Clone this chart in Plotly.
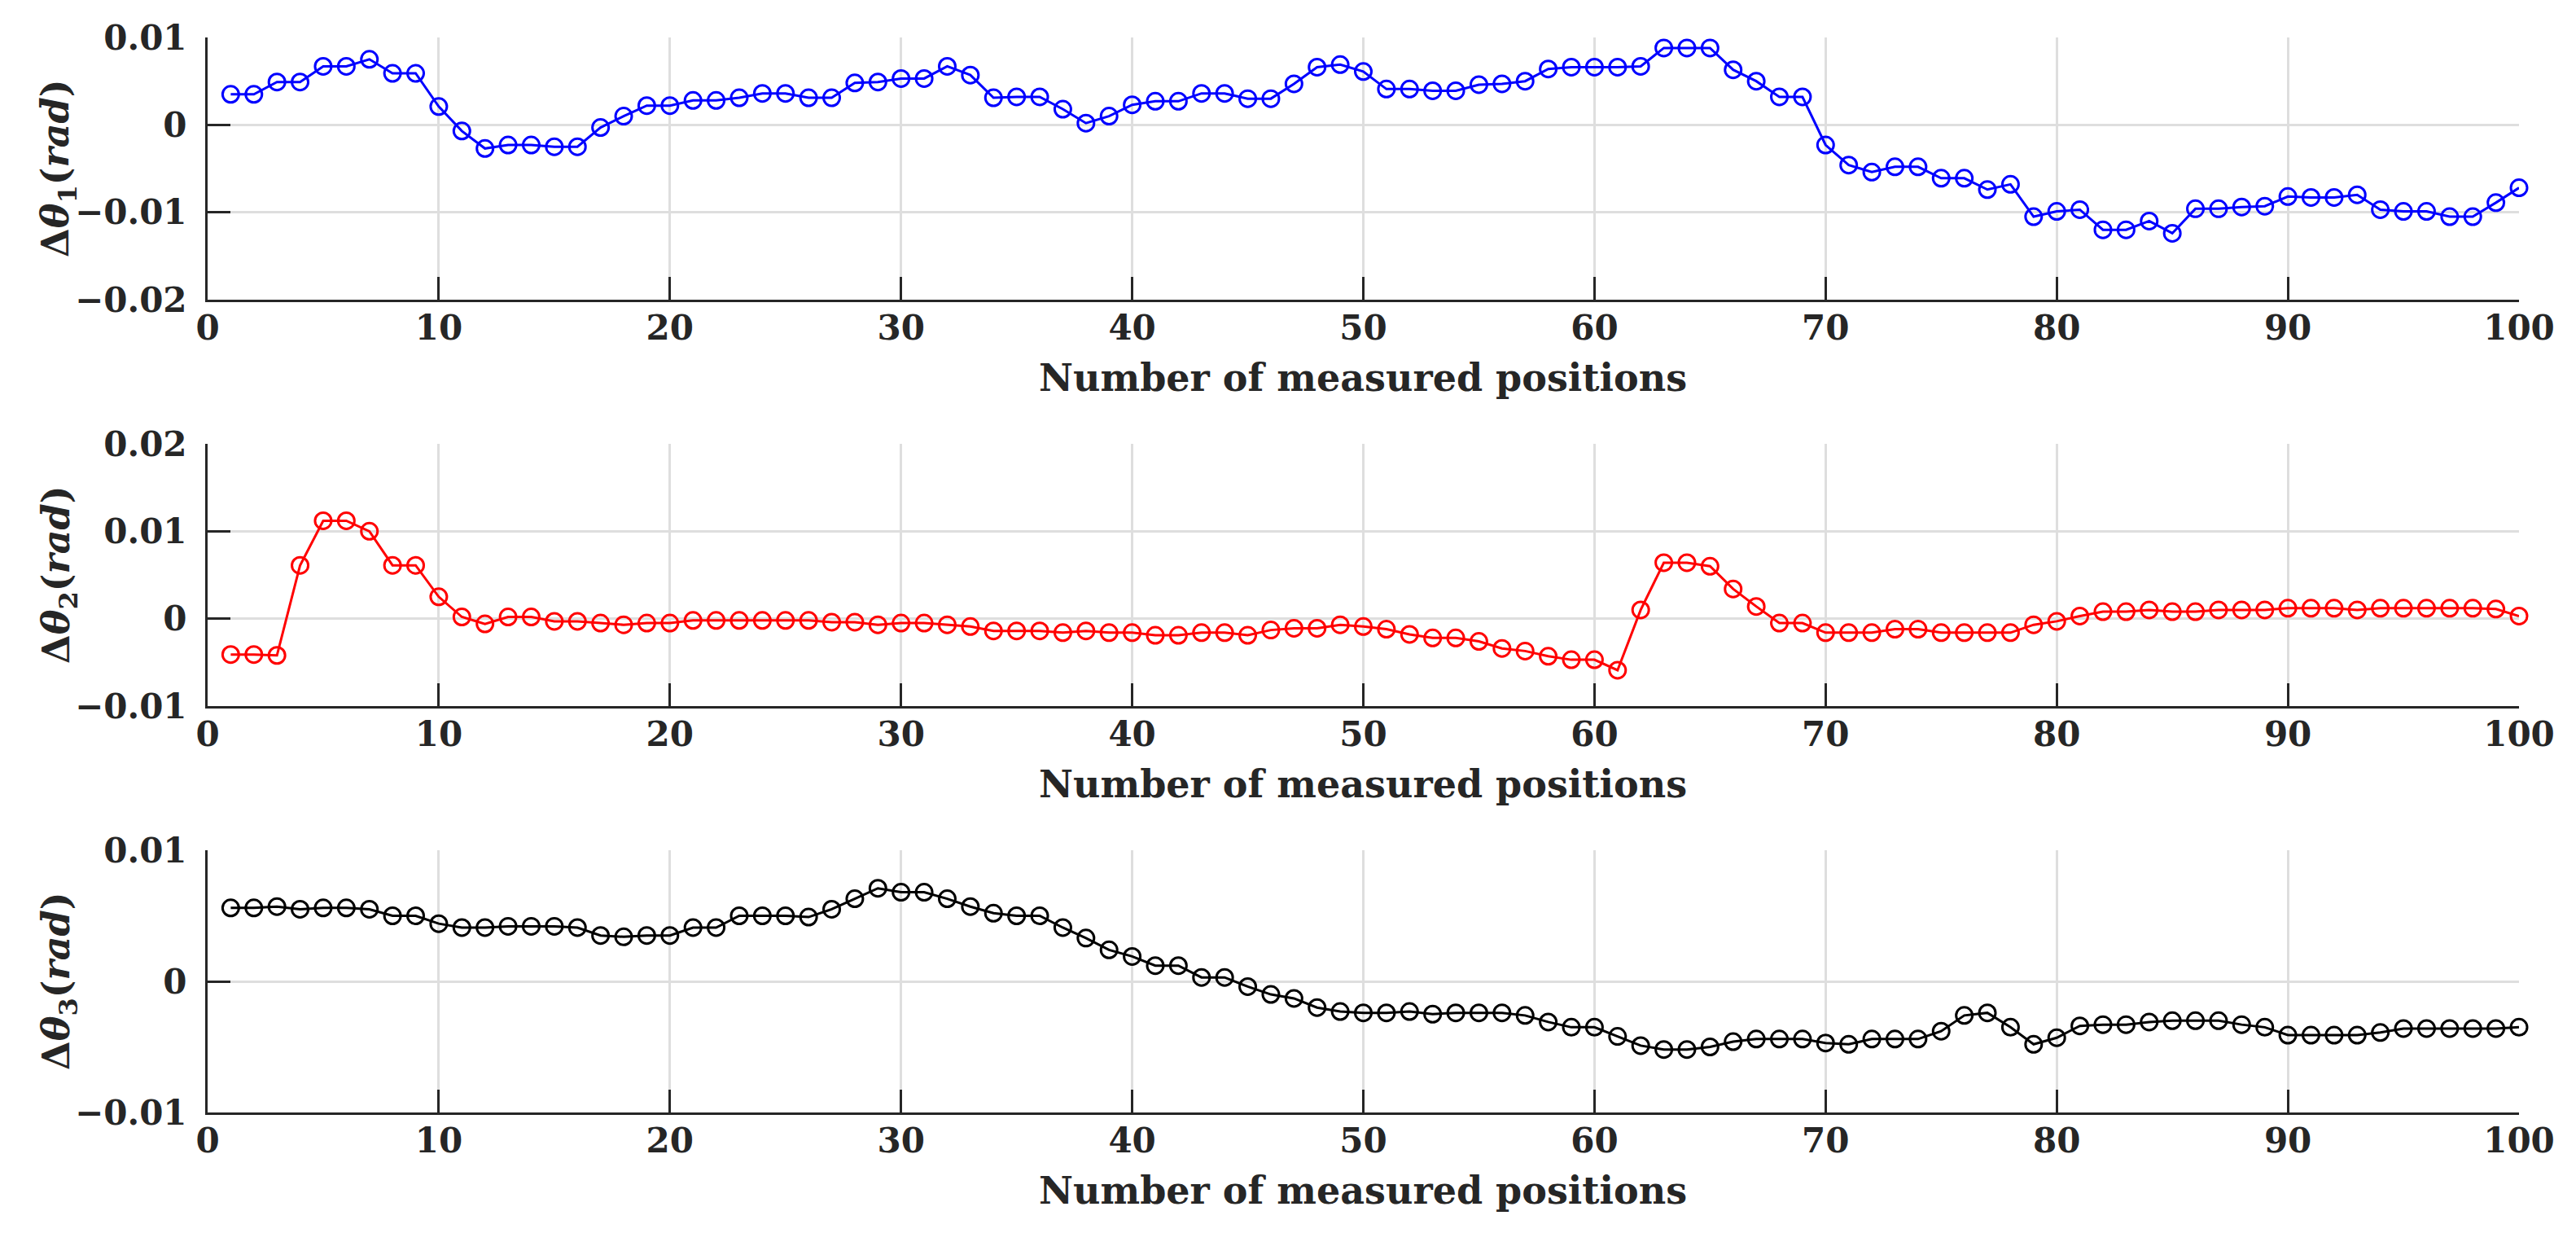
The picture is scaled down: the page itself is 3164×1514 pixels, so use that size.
import plotly.graph_objects as go

# ---- data ----
positions = list(range(1, 101))

dtheta1 = [
    0.0035, 0.0035, 0.0049, 0.0049, 0.0067, 0.0067, 0.0075, 0.0059, 0.0059, 0.0021,
    -0.0007, -0.0027, -0.0023, -0.0023, -0.0025, -0.0025, -0.0003, 0.0010, 0.0022, 0.0022,
    0.0028, 0.0028, 0.0031, 0.0036, 0.0036, 0.0031, 0.0031, 0.0048, 0.0049, 0.0053,
    0.0053, 0.0067, 0.0057, 0.0031, 0.0032, 0.0032, 0.0018, 0.0002, 0.0010, 0.0023,
    0.0027, 0.0027, 0.0036, 0.0036, 0.0030, 0.0030, 0.0047, 0.0066, 0.0069, 0.0061,
    0.0041, 0.0041, 0.0039, 0.0039, 0.0046, 0.0047, 0.0050, 0.0064, 0.0066, 0.0066,
    0.0066, 0.0067, 0.0088, 0.0088, 0.0088, 0.0063, 0.0050, 0.0032, 0.0032, -0.0023,
    -0.0046, -0.0054, -0.0048, -0.0048, -0.0061, -0.0061, -0.0074, -0.0068, -0.0105, -0.0099,
    -0.0097, -0.0120, -0.0120, -0.0110, -0.0124, -0.0096, -0.0096, -0.0094, -0.0093, -0.0082,
    -0.0083, -0.0083, -0.0080, -0.0097, -0.0099, -0.0099, -0.0105, -0.0105, -0.0089, -0.0072,
]

dtheta2 = [
    -0.0041, -0.0041, -0.0042, 0.0061, 0.0112, 0.0112, 0.0100, 0.0061, 0.0061, 0.0025,
    0.0002, -0.0006, 0.0002, 0.0002, -0.0003, -0.0003, -0.0005, -0.0007, -0.0005, -0.0005,
    -0.0002, -0.0002, -0.0002, -0.0002, -0.0002, -0.0002, -0.0004, -0.0004, -0.0007, -0.0005,
    -0.0005, -0.0007, -0.0009, -0.0014, -0.0014, -0.0014, -0.0016, -0.0014, -0.0016, -0.0016,
    -0.0019, -0.0019, -0.0016, -0.0016, -0.0019, -0.0013, -0.0011, -0.0011, -0.0007, -0.0009,
    -0.0012, -0.0018, -0.0022, -0.0022, -0.0026, -0.0034, -0.0037, -0.0043, -0.0047, -0.0047,
    -0.0059, 0.0010, 0.0064, 0.0064, 0.0060, 0.0034, 0.0014, -0.0005, -0.0005, -0.0016,
    -0.0016, -0.0016, -0.0012, -0.0012, -0.0016, -0.0016, -0.0016, -0.0016, -0.0007, -0.0003,
    0.0003, 0.0008, 0.0008, 0.0010, 0.0008, 0.0008, 0.0010, 0.0010, 0.0010, 0.0012,
    0.0012, 0.0012, 0.0010, 0.0012, 0.0012, 0.0012, 0.0012, 0.0012, 0.0011, 0.0003,
]

dtheta3 = [
    0.0056, 0.0056, 0.0057, 0.0055, 0.0056, 0.0056, 0.0055, 0.0050, 0.0050, 0.0044,
    0.0041, 0.0041, 0.0042, 0.0042, 0.0042, 0.0041, 0.0035, 0.0034, 0.0035, 0.0035,
    0.0041, 0.0041, 0.0050, 0.0050, 0.0050, 0.0049, 0.0055, 0.0063, 0.0071, 0.0068,
    0.0068, 0.0063, 0.0057, 0.0052, 0.0050, 0.0050, 0.0041, 0.0033, 0.0024, 0.0019,
    0.0012, 0.0012, 0.0003, 0.0003, -0.0004, -0.0010, -0.0013, -0.0020, -0.0023, -0.0024,
    -0.0024, -0.0023, -0.0025, -0.0024, -0.0024, -0.0024, -0.0026, -0.0031, -0.0035, -0.0035,
    -0.0042, -0.0049, -0.0052, -0.0052, -0.0050, -0.0046, -0.0044, -0.0044, -0.0044, -0.0047,
    -0.0048, -0.0044, -0.0044, -0.0044, -0.0038, -0.0026, -0.0024, -0.0035, -0.0048, -0.0043,
    -0.0034, -0.0033, -0.0033, -0.0031, -0.0030, -0.0030, -0.0030, -0.0033, -0.0035, -0.0041,
    -0.0041, -0.0041, -0.0041, -0.0039, -0.0036, -0.0036, -0.0036, -0.0036, -0.0036, -0.0035,
]

x_ticks = [0, 10, 20, 30, 40, 50, 60, 70, 80, 90, 100]
y1_ticks = [-0.02, -0.01, 0, 0.01]
y2_ticks = [-0.01, 0, 0.01, 0.02]
y3_ticks = [-0.01, 0, 0.01]
y1_labels = ["\u22120.02", "\u22120.01", "0", "0.01"]
y2_labels = ["\u22120.01", "0", "0.01", "0.02"]
y3_labels = ["\u22120.01", "0", "0.01"]
x_title = "Number of measured positions"
y_titles = [
    "<b>Δ<i>θ</i><sub>1</sub>(<i>rad</i>)</b>",
    "<b>Δ<i>θ</i><sub>2</sub>(<i>rad</i>)</b>",
    "<b>Δ<i>θ</i><sub>3</sub>(<i>rad</i>)</b>",
]
colors = ["#0000FF", "#FF0000", "#000000"]

# ---- layout geometry (pixels of a 3164 x 1514 canvas) ----
W, H = 3164, 1514
X0, X1 = 247, 3086
panels = [(38, 360), (537, 859), (1036, 1358)]  # (top, bottom) pixel rows
FONT = "DejaVu Serif"
FS_TICK = 42
FS_TITLE = 46
AXC = "#262626"
GRID = "#dedede"

fig = go.Figure()
series = [dtheta1, dtheta2, dtheta3]
ranges = [[-0.02, 0.01], [-0.01, 0.02], [-0.01, 0.01]]
yticks = [y1_ticks, y2_ticks, y3_ticks]
ylabels = [y1_labels, y2_labels, y3_labels]

for i, (vals, col) in enumerate(zip(series, colors)):
    sfx = "" if i == 0 else str(i + 1)
    fig.add_trace(go.Scatter(
        x=positions, y=vals, mode="lines+markers",
        xaxis="x" + sfx, yaxis="y" + sfx,
        line=dict(color=col, width=3),
        marker=dict(symbol="circle-open", size=20, color=col, line=dict(width=3, color=col)),
        cliponaxis=False, showlegend=False,
    ))
    top, bot = panels[i]
    ydom = [1 - bot / H, 1 - top / H]
    common = dict(
        showline=True, linecolor=AXC, linewidth=3, mirror=False, automargin=False,
        ticks="inside", ticklen=28, tickwidth=3, tickcolor=AXC,
        showgrid=True, gridcolor=GRID, gridwidth=2.5, zeroline=False,
        tickfont=dict(family=FONT, size=FS_TICK, color=AXC, weight="bold"),
    )
    fig.layout["xaxis" + sfx] = dict(
        domain=[X0 / W, X1 / W], range=[0, 100], anchor="y" + sfx,
        tickvals=x_ticks, ticklabelstandoff=-4, **common)
    fig.layout["yaxis" + sfx] = dict(
        domain=ydom, range=ranges[i], anchor="x" + sfx,
        tickvals=yticks[i], ticktext=ylabels[i], ticklabelstandoff=14, **common)
    # x title
    fig.add_annotation(
        x=(X0 + X1) / 2 / W, y=1 - (bot + 96) / H, xref="paper", yref="paper",
        text="<b>" + x_title + "</b>", showarrow=False, xanchor="center", yanchor="middle",
        font=dict(family=FONT, size=FS_TITLE, color=AXC))
    # y title
    fig.add_annotation(
        x=64 / W, y=1 - (top + bot) / 2 / H, xref="paper", yref="paper",
        text=y_titles[i], showarrow=False, textangle=-90, xanchor="center", yanchor="middle",
        font=dict(family=FONT, size=FS_TITLE, color=AXC))

fig.update_layout(
    template="none",
    width=W, height=H, margin=dict(l=0, r=0, t=0, b=0, pad=0),
    paper_bgcolor="white", plot_bgcolor="white",
)

fig.write_html("out.html")
